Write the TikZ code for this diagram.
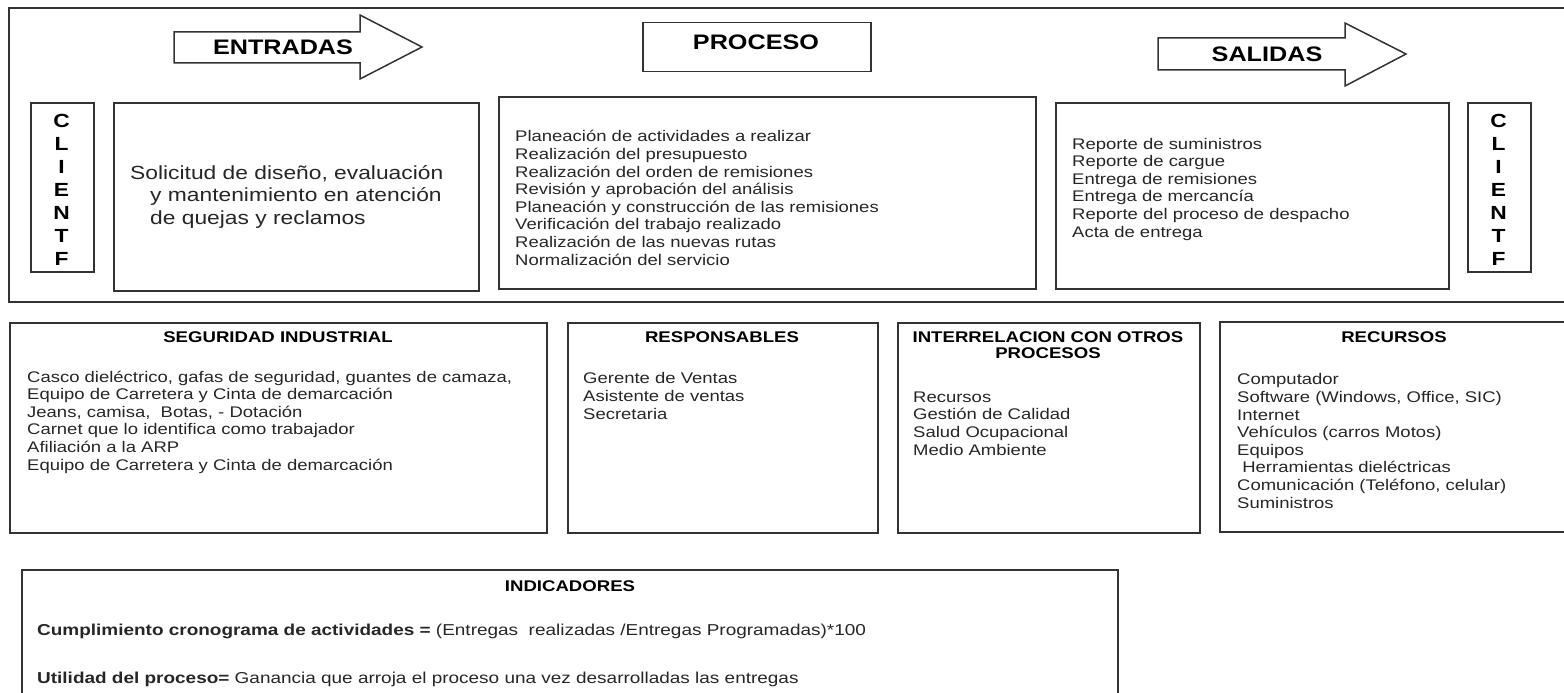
\documentclass[tikz,border=0pt]{standalone}
\usepackage{fontspec}
\setmainfont{Liberation Sans}[FakeStretch=1.2]
\tikzset{
  caja/.style={draw=black!80, line width=1.5pt, inner sep=0pt, anchor=north west},
  flecha/.style={draw=black!80, line width=1.5pt, fill=white},
  lista/.style={anchor=base west, align=left, inner sep=0pt, text=black!85,
    font=\fontsize{15.4}{17.6}\selectfont},
  titulo/.style={anchor=base, align=center, inner sep=0pt,
    font=\fontsize{15.5}{16}\selectfont\bfseries},
  grande/.style={anchor=base, inner sep=0pt, font=\fontsize{21}{24}\selectfont\bfseries},
  cliente/.style={anchor=base, align=center, inner sep=0pt,
    font=\fontsize{19}{23}\selectfont\bfseries},
}
\begin{document}
\begin{tikzpicture}[x=1pt,y=-1pt]
\useasboundingbox (0,0) rectangle (1564,693);
% marco superior
\draw[black!80, line width=1.5pt] (1564,8) -- (9,8) -- (9,302) -- (1564,302);
% flechas
\draw[flecha] (174,32) -- (360,32) -- (360,15) -- (422,47) -- (360,79) -- (360,63) -- (174,63) -- cycle;
\node[grande] (entradas) at (283,55) {ENTRADAS};
\draw[flecha] (1158,38) -- (1345,38) -- (1345,23) -- (1406,54) -- (1345,86) -- (1345,70) -- (1158,70) -- cycle;
\node[grande] (salidas) at (1267,62) {SALIDAS};
\node[caja, minimum width=228pt, minimum height=49pt] (proctit) at (642,22) {};
\node[grande] (proceso) at (756,50) {PROCESO};
% cajas de arriba (base = ultima linea)
\node[caja, minimum width=63pt, minimum height=169pt] (clienteI) at (30,102) {};
\node[cliente] (clienteItxt) at (61.5,265) {C\\L\\I\\E\\N\\T\\F};
\node[caja, minimum width=365pt, minimum height=188pt] (entbox) at (113,102) {};
\node[lista, font=\fontsize{19}{22.5}\selectfont] (enttxt) at (130,224)
  {Solicitud de diseño, evaluación\\
   \hspace*{20pt}y mantenimiento en atención\\
   \hspace*{20pt}de quejas y reclamos};
\node[caja, minimum width=537pt, minimum height=192pt] (procbox) at (498,96) {};
\node[lista] (proctxt) at (515,265)
  {Planeación de actividades a realizar\\
   Realización del presupuesto\\
   Realización del orden de remisiones\\
   Revisión y aprobación del análisis\\
   Planeación y construcción de las remisiones\\
   Verificación del trabajo realizado\\
   Realización de las nuevas rutas\\
   Normalización del servicio};
\node[caja, minimum width=393pt, minimum height=186pt] (salbox) at (1055,102) {};
\node[lista] (saltxt) at (1072,237)
  {Reporte de suministros\\
   Reporte de cargue\\
   Entrega de remisiones\\
   Entrega de mercancía\\
   Reporte del proceso de despacho\\
   Acta de entrega};
\node[caja, minimum width=63pt, minimum height=169pt] (clienteD) at (1467,102) {};
\node[cliente] (clienteDtxt) at (1498.5,265) {C\\L\\I\\E\\N\\T\\F};
% cajas de abajo
\node[caja, minimum width=537pt, minimum height=210pt] (segbox) at (9,322) {};
\node[titulo] (segtit) at (278,342) {SEGURIDAD INDUSTRIAL};
\node[lista] (segtxt) at (27,470)
  {Casco dieléctrico, gafas de seguridad, guantes de camaza,\\
   Equipo de Carretera y Cinta de demarcación\\
   Jeans, camisa, \ Botas, - Dotación\\
   Carnet que lo identifica como trabajador\\
   Afiliación a la ARP\\
   Equipo de Carretera y Cinta de demarcación};
\node[caja, minimum width=310pt, minimum height=210pt] (resbox) at (567,322) {};
\node[titulo] (restit) at (722,342) {RESPONSABLES};
\node[lista] (restxt) at (583,419)
  {Gerente de Ventas\\
   Asistente de ventas\\
   Secretaria};
\node[caja, minimum width=302pt, minimum height=210pt] (intbox) at (897,322) {};
\node[titulo] (inttit) at (1048,358) {INTERRELACION CON OTROS\\PROCESOS};
\node[lista] (inttxt) at (913,455)
  {Recursos\\
   Gestión de Calidad\\
   Salud Ocupacional\\
   Medio Ambiente};
\draw[black!80, line width=1.5pt] (1564,322) -- (1220,322) -- (1220,532) -- (1564,532);
\node[titulo] (rectit) at (1394,342) {RECURSOS};
\node[lista] (rectxt) at (1237,508)
  {Computador\\
   Software (Windows, Office, SIC)\\
   Internet\\
   Vehículos (carros Motos)\\
   Equipos\\
   \ Herramientas dieléctricas\\
   Comunicación (Teléfono, celular)\\
   Suministros};
% indicadores
\draw[black!80, line width=1.5pt] (22,693) -- (22,570) -- (1118,570) -- (1118,693);
\node[titulo] (indtit) at (570,591) {INDICADORES};
\node[lista, font=\fontsize{15.8}{17.6}\selectfont] (ind1) at (37,635)
  {\textbf{Cumplimiento cronograma de actividades =} (Entregas \ realizadas /Entregas Programadas)*100};
\node[lista, font=\fontsize{15.8}{17.6}\selectfont] (ind2) at (37,683)
  {\textbf{Utilidad del proceso=} Ganancia que arroja el proceso una vez desarrolladas las entregas};
\end{tikzpicture}
\end{document}
